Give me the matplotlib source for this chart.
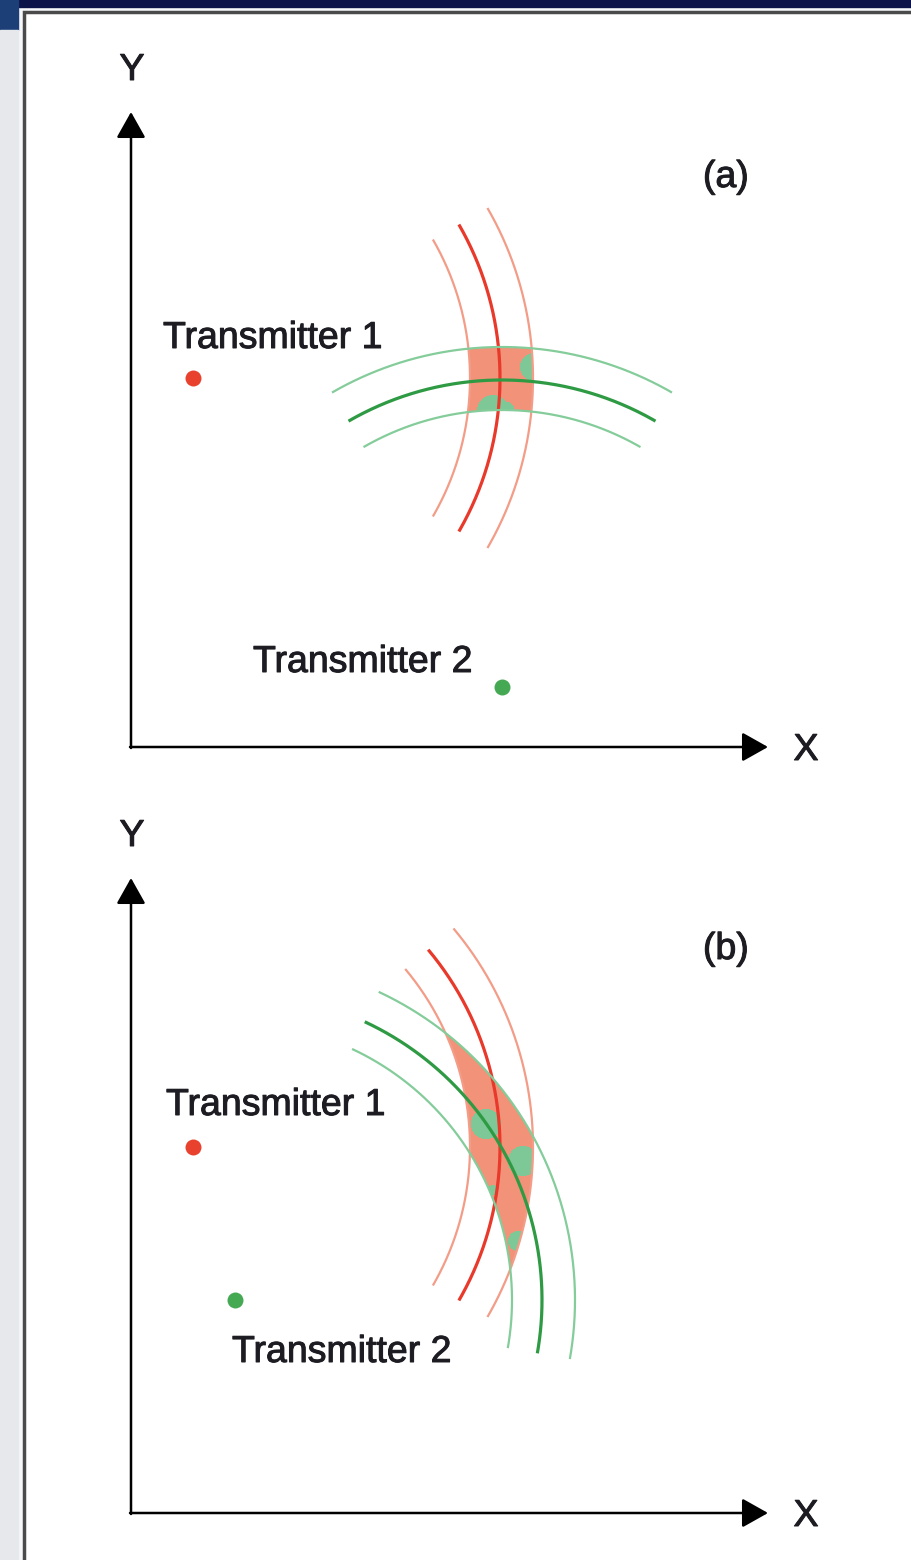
import numpy as np
import matplotlib.pyplot as plt
import matplotlib.patheffects as pe
from matplotlib.patches import Rectangle

plt.rcParams['font.family'] = ['Liberation Sans', 'DejaVu Sans']

W, H = 911, 1560

# ring radii used for both transmitters (inner, centre, outer), pixels
radii = [277, 307, 340]

# panel (a): transmitter positions, arc spans (deg, y pointing down), error blobs
tx1_a = (193, 378)
tx2_a = (502, 687)
red_span_a = (-30, 30)
green_span_a = (-120, -60)
blobs_a = [(534, 367, 14), (493, 411, 16), (507, 409, 7)]

# panel (b)
tx1_b = (193, 1147)
tx2_b = (235, 1300)
red_span_b = (-40, 30)
green_span_b = (-65, 10)
blobs_b = [(486, 1124, 15), (523, 1161, 15), (518, 1241, 10), (493, 1190, 5)]

# axis origins, arrow tips and labels
axes_origin = [(131, 747), (131, 1513)]
axes_ytip = [112, 878]
axes_xtip = [768, 768]
panel_tags = ['(a)', '(b)']
tag_pos = [(726, 187), (726, 959)]
tx_labels = ['Transmitter 1', 'Transmitter 2']
label_pos_a = [(163, 348), (253, 672)]
label_pos_b = [(166, 1115), (232, 1362)]

RED, RED_L = '#e8392b', '#f39c87'
GRN, GRN_L = '#2f9a44', '#84cc9a'
FILL = np.array([242, 146, 120, 255]) / 255
BLOB = np.array([125, 200, 150, 255]) / 255

fig = plt.figure(figsize=(W / 100, H / 100), dpi=100)
ax = fig.add_axes([0, 0, 1, 1])
ax.set_xlim(0, W)
ax.set_ylim(H, 0)
ax.axis('off')

# slide background + frame
ax.add_patch(Rectangle((0, 0), W, H, color='#f6f7f8', zorder=0))
ax.add_patch(Rectangle((0, 0), W, 7, color='#0c1349', zorder=0))
ax.add_patch(Rectangle((0, 0), 18, 30, color='#1d3f78', zorder=0))
ax.add_patch(Rectangle((0, 30), 18, H, color='#e6e8eb', zorder=0))
ax.add_patch(Rectangle((24, 12), W, H, facecolor='white', edgecolor='#4a4a4a', lw=2.5, zorder=0))

xx, yy = np.meshgrid(np.arange(W) + 0.5, np.arange(H) + 0.5)
rgba = np.zeros((H, W, 4))


def in_ring(c, span):
    d = np.hypot(xx - c[0], yy - c[1])
    ang = np.degrees(np.arctan2(yy - c[1], xx - c[0]))
    return (d >= radii[0]) & (d <= radii[-1]) & (ang >= span[0]) & (ang <= span[1])


def arcs(c, span, main, light):
    th = np.radians(np.linspace(span[0], span[1], 300))
    for r in radii:
        mid = r == radii[1]
        ax.plot(c[0] + r * np.cos(th), c[1] + r * np.sin(th),
                color=main if mid else light, lw=2.3 if mid else 1.6,
                solid_capstyle='butt', zorder=3)


for t1, t2, rs, gs, blobs in [(tx1_a, tx2_a, red_span_a, green_span_a, blobs_a),
                              (tx1_b, tx2_b, red_span_b, green_span_b, blobs_b)]:
    region = in_ring(t1, rs) & in_ring(t2, gs)
    rgba[region] = FILL
    for bx, by, br in blobs:
        rgba[region & (np.hypot(xx - bx, yy - by) <= br)] = BLOB
    arcs(t1, rs, RED, RED_L)
    arcs(t2, gs, GRN, GRN_L)
    ax.plot(*t1, 'o', color='#e8412e', ms=11.5, mec='none', zorder=4)
    ax.plot(*t2, 'o', color='#45a853', ms=11.5, mec='none', zorder=4)

ax.imshow(rgba, extent=(0, W, H, 0), interpolation='nearest', zorder=2)

ink = '#1c1c22'
txt = dict(fontsize=27, color=ink, va='baseline', zorder=5,
           path_effects=[pe.withStroke(linewidth=0.7, foreground=ink)])
for (ox, oy), yt, xt, tag, tp in zip(axes_origin, axes_ytip, axes_xtip, panel_tags, tag_pos):
    aprops = dict(arrowstyle='-|>,head_length=0.8,head_width=0.45', color='black',
                  lw=1.8, mutation_scale=20, shrinkA=0, shrinkB=0)
    ax.annotate('', xy=(ox, yt), xytext=(ox, oy + 1), arrowprops=aprops, zorder=5)
    ax.annotate('', xy=(xt, oy), xytext=(ox - 1, oy), arrowprops=aprops, zorder=5)
    ax.text(ox + 1, yt - 32, 'Y', ha='center', **txt)
    ax.text(xt + 38, oy + 13, 'X', ha='center', **txt)
    ax.text(tp[0], tp[1], tag, ha='center', **txt)

for lab, p in zip(tx_labels, label_pos_a):
    ax.text(p[0], p[1], lab, ha='left', **txt)
for lab, p in zip(tx_labels, label_pos_b):
    ax.text(p[0], p[1], lab, ha='left', **txt)

fig.savefig('out.png', dpi=100)
